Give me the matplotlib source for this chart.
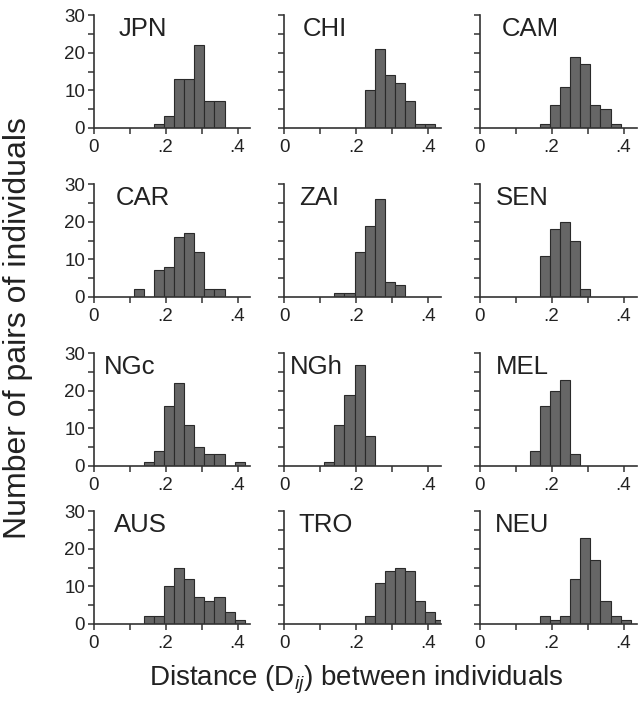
import matplotlib
matplotlib.use("Agg")
import matplotlib.pyplot as plt
import numpy as np

plt.rcParams['font.family'] = ['Liberation Sans', 'DejaVu Sans']
plt.rcParams['mathtext.fontset'] = 'custom'
plt.rcParams['mathtext.rm'] = 'Liberation Sans'
plt.rcParams['mathtext.it'] = 'Liberation Sans:italic'

bin_width = 0.028
names = ["JPN", "CHI", "CAM", "CAR", "ZAI", "SEN", "NGc", "NGh", "MEL", "AUS", "TRO", "NEU"]
# index of first bin (bin edge = index * bin_width)
first_bin = [6, 8, 6, 4, 5, 6, 5, 4, 5, 5, 8, 6]
counts = [
    [1, 3, 13, 13, 22, 7, 7],                 # JPN
    [10, 21, 14, 12, 7, 1, 1],                # CHI
    [1, 6, 11, 19, 17, 6, 5, 1],              # CAM
    [2, 0, 7, 8, 16, 17, 12, 2, 2],           # CAR
    [1, 1, 12, 19, 26, 4, 3],                 # ZAI
    [11, 18, 20, 15, 2],                      # SEN
    [1, 4, 16, 22, 11, 5, 3, 3, 0, 1],        # NGc
    [1, 11, 19, 27, 8],                       # NGh
    [4, 16, 20, 23, 3],                       # MEL
    [2, 2, 10, 15, 12, 7, 6, 7, 3, 1],        # AUS
    [2, 11, 14, 15, 14, 6, 3, 1],             # TRO
    [2, 1, 2, 12, 23, 17, 6, 2, 1],           # NEU
]
x_ticks = [0, 0.1, 0.2, 0.3, 0.4]
x_tick_labels = ["0", "", ".2", "", ".4"]
y_ticks = [0, 5, 10, 15, 20, 25, 30]
y_tick_labels = ["0", "", "10", "", "20", "", "30"]

# layout (pixels)
W, H = 640, 702
col_left = [93.5, 284.0, 479.5]
row_zero = [127.7, 296.7, 465.7, 623.7]
ax_w = 157.0
ax_h = 112.3
label_x = [0.069, 0.052, 0.063, 0.062, 0.042, 0.044, 0.028, 0.016, 0.046, 0.058, 0.040, 0.044]

fig = plt.figure(figsize=(W / 100, H / 100), dpi=100)
edge = '#2a2a2a'
for i, name in enumerate(names):
    r, c = divmod(i, 3)
    ax = fig.add_axes([col_left[c] / W, (H - row_zero[r]) / H, ax_w / W, ax_h / H])
    left_edges = (first_bin[i] + np.arange(len(counts[i]))) * bin_width
    ax.bar(left_edges, counts[i], width=bin_width, align='edge',
           color='#666666', edgecolor=edge, linewidth=0.8)
    ax.set_xlim(0, 0.436)
    ax.set_ylim(0, 30)
    for s in ['top', 'right']:
        ax.spines[s].set_visible(False)
    for s in ['left', 'bottom']:
        ax.spines[s].set_color('#333333')
        ax.spines[s].set_linewidth(1.2)
    ax.set_xticks(x_ticks)
    ax.set_xticklabels(x_tick_labels)
    ax.set_yticks(y_ticks)
    if c == 0:
        ax.set_yticklabels(y_tick_labels)
    else:
        ax.set_yticklabels([])
    ax.tick_params(axis='both', direction='out', length=4, width=1.1,
                   color='#333333', labelsize=13.5, labelcolor='#222222', pad=2)
    ax.tick_params(axis='x', pad=4)
    ax.text(label_x[i], 26.5, name, fontsize=18.5, color='#222222',
            ha='left', va='center')

fig.text(18 / W, 1 - 328 / H, "Number of pairs of individuals", rotation=90,
         ha='center', va='center', fontsize=23, color='#222222')
fig.text(356 / W, 1 - 680 / H, r"Distance (D$_{\it{ij}}$) between individuals",
         ha='center', va='center', fontsize=20, color='#222222')

fig.savefig("out.png", dpi=100)
